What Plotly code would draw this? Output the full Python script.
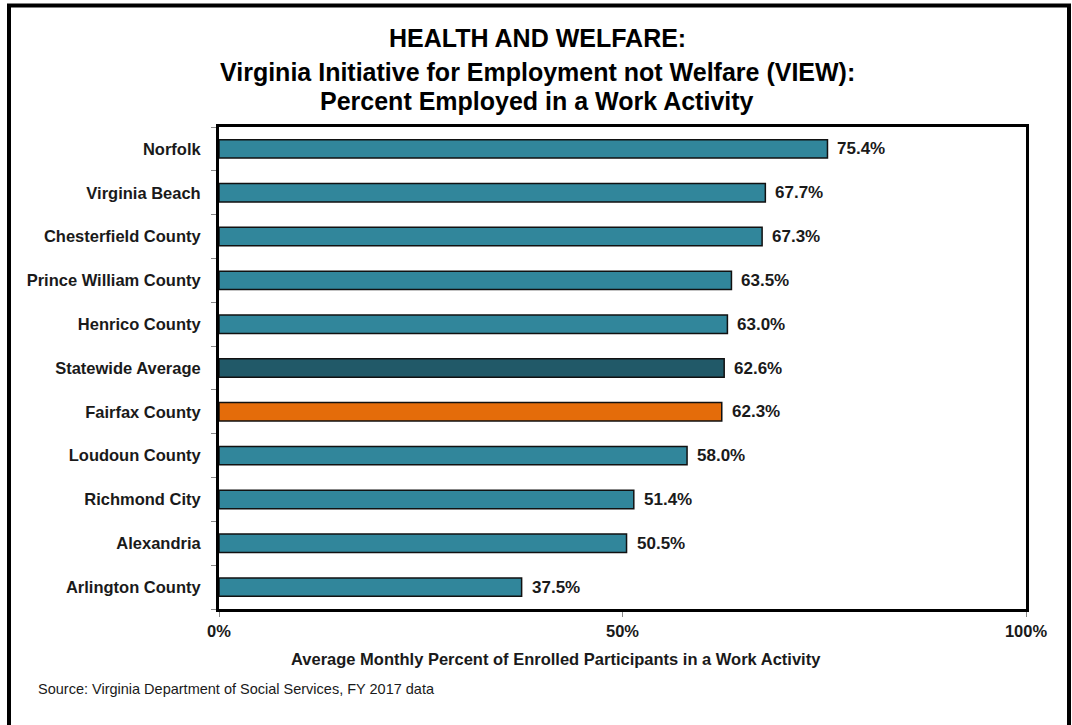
import plotly.graph_objects as go

categories = ["Norfolk", "Virginia Beach", "Chesterfield County", "Prince William County",
              "Henrico County", "Statewide Average", "Fairfax County", "Loudoun County",
              "Richmond City", "Alexandria", "Arlington County"]
values = [75.4, 67.7, 67.3, 63.5, 63.0, 62.6, 62.3, 58.0, 51.4, 50.5, 37.5]
bar_colors = ["#31869B"] * 5 + ["#215968", "#E46C0A"] + ["#31869B"] * 4
x_ticks = [0, 50, 100]
x_tick_labels = ["0%", "50%", "100%"]

W, H = 1072, 725
L, R, T, B = 219, 1026, 127, 609  # plot area in pixels

def px(x):
    return (x - L) / (R - L)

def py(y):
    return (B - y) / (B - T)

FONT = "Liberation Sans, Arial, sans-serif"

fig = go.Figure(go.Bar(
    x=values[::-1], y=categories[::-1], orientation="h",
    marker=dict(color=bar_colors[::-1], line=dict(color="#111111", width=1.5)),
    width=0.42, hoverinfo="x+y",
))

for cat, v in zip(categories, values):
    fig.add_annotation(x=v, y=cat, xref="x", yref="y", text=f"{v:.1f}%", showarrow=False,
                       xanchor="left", yanchor="middle", xshift=8,
                       font=dict(family=FONT, size=17, color="#1a1a1a", weight="bold"))

fig.update_layout(
    width=W, height=H, paper_bgcolor="white", plot_bgcolor="white",
    margin=dict(l=L, r=W - R, t=T, b=H - B), showlegend=False,
    xaxis=dict(range=[0, 100], tickvals=x_ticks, ticktext=x_tick_labels, showgrid=False,
               zeroline=False, ticks="outside", ticklen=5, tickcolor="#888888",
               tickfont=dict(family=FONT, size=16.5, color="#1a1a1a", weight="bold"),
               showline=True, linewidth=3, linecolor="black", mirror=True),
    yaxis=dict(showgrid=False, ticks="outside", ticklen=5, tickcolor="#888888",
               tickson="boundaries", range=[-0.5, 10.5],
               tickfont=dict(family=FONT, size=16.5, color="#1a1a1a", weight="bold"),
               showline=True, linewidth=3, linecolor="black", mirror=True, ticklabelstandoff=12),
    font=dict(family=FONT),
)

title_font = dict(family="Liberation Sans Narrow, Liberation Sans, Arial Narrow, sans-serif",
                  size=25, color="black", weight="bold")
for txt, y in [("HEALTH AND WELFARE:", 38), ("Virginia Initiative for Employment not Welfare (VIEW):", 72),
               ("Percent Employed in a Work Activity", 101)]:
    fig.add_annotation(text=txt, x=px(537), y=py(y), xref="paper", yref="paper",
                       showarrow=False, xanchor="center", yanchor="middle", font=title_font)

fig.add_annotation(text="Average Monthly Percent of Enrolled Participants in a Work Activity",
                   x=px(556), y=py(659), xref="paper", yref="paper", showarrow=False,
                   xanchor="center", yanchor="middle",
                   font=dict(family=FONT, size=16.5, color="#1a1a1a", weight="bold"))
fig.add_annotation(text="Source: Virginia Department of Social Services, FY 2017 data",
                   x=px(36), y=py(689), xref="paper", yref="paper", showarrow=False,
                   xanchor="left", yanchor="middle",
                   font=dict(family=FONT, size=14.5, color="#1a1a1a"))

fig.add_shape(type="rect", xref="paper", yref="paper",
              x0=px(9), x1=px(1069), y0=py(745), y1=py(5.5),
              line=dict(color="black", width=4), fillcolor="rgba(0,0,0,0)", layer="above")

fig.write_html("out.html", config={"displayModeBar": False},
               post_script="document.body.style.margin='0px';document.body.style.overflow='hidden';")
